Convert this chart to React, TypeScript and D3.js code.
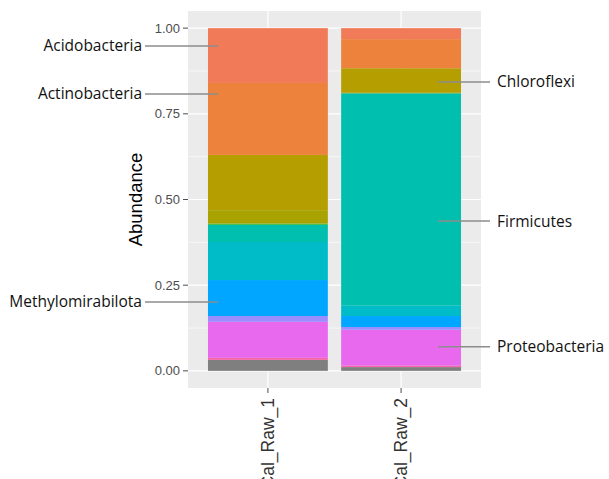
import React from "react";
import * as d3 from "d3";

// samples on the x axis
const samples = ["Cal_Raw_1", "Cal_Raw_2"];

// taxa, stacked from the bottom up
const taxa = [
  "Other",
  "Verrucomicrobiota",
  "Proteobacteria",
  "Myxococcota",
  "Methylomirabilota",
  "Gemmatimonadota",
  "Firmicutes",
  "Entotheonellaeota",
  "Desulfobacterota",
  "Chloroflexi",
  "Actinobacteria",
  "Acidobacteria",
];

const taxaColors = [
  "#7f7f7f",
  "#f966a8",
  "#e868ee",
  "#9b8cff",
  "#00a6ff",
  "#00bcc9",
  "#00bfaf",
  "#3db83a",
  "#a8a300",
  "#b49e00",
  "#ec823c",
  "#f17b59",
];

// relative abundance per taxon, same order as taxa
const raw1 = [0.032, 0.006, 0.105, 0.017, 0.105, 0.111, 0.05, 0.004, 0.039, 0.161, 0.21, 0.16];
const raw2 = [0.011, 0.004, 0.105, 0.008, 0.032, 0.03, 0.62, 0.0, 0.003, 0.07, 0.085, 0.032];

const yTicks = [0, 0.25, 0.5, 0.75, 1];
const yMinor = [0.125, 0.375, 0.625, 0.875];

// labelled taxa: which sample, at what abundance height, which side
const labelNames = ["Acidobacteria", "Actinobacteria", "Methylomirabilota", "Chloroflexi", "Firmicutes", "Proteobacteria"];
const labelSample = ["Cal_Raw_1", "Cal_Raw_1", "Cal_Raw_1", "Cal_Raw_2", "Cal_Raw_2", "Cal_Raw_2"];
const labelValue = [0.948, 0.808, 0.201, 0.843, 0.437, 0.07];

export default function App() {
  const width = 609;
  const height = 479;
  const panel = { left: 188, right: 481, top: 11, bottom: 388 };

  const x = d3
    .scaleBand<string>()
    .domain(samples)
    .range([panel.left, panel.right])
    .paddingInner(0.1)
    .paddingOuter(0.15);

  const y = d3.scaleLinear().domain([-0.05, 1.05]).range([panel.bottom, panel.top]);

  const rows = samples.map((s, i) => {
    const vals = i === 0 ? raw1 : raw2;
    const row: any = { sample: s };
    taxa.forEach((t, j) => (row[t] = vals[j]));
    return row;
  });

  const series = d3.stack<any>().keys(taxa)(rows);
  const color = d3.scaleOrdinal<string, string>().domain(taxa).range(taxaColors);

  const axisFont = "'Liberation Sans', Arial, sans-serif";
  const labelFont = "'Open Sans', sans-serif";

  return (
    <svg width={width} height={height} style={{ position: "absolute", left: 0, top: 0, background: "#fff" }}>
      <rect
        x={panel.left}
        y={panel.top}
        width={panel.right - panel.left}
        height={panel.bottom - panel.top}
        fill="#ebebeb"
      />
      {yMinor.map((t) => (
        <line key={"m" + t} x1={panel.left} x2={panel.right} y1={y(t)} y2={y(t)} stroke="#fff" strokeWidth={0.6} />
      ))}
      {yTicks.map((t) => (
        <line key={"g" + t} x1={panel.left} x2={panel.right} y1={y(t)} y2={y(t)} stroke="#fff" strokeWidth={1.2} />
      ))}
      {samples.map((s) => (
        <line
          key={"v" + s}
          x1={x(s)! + x.bandwidth() / 2}
          x2={x(s)! + x.bandwidth() / 2}
          y1={panel.top}
          y2={panel.bottom}
          stroke="#fff"
          strokeWidth={1.2}
        />
      ))}

      {series.map((ser) => (
        <g key={ser.key} fill={color(ser.key)}>
          {ser.map((d, i) => (
            <rect
              key={i}
              x={x(d.data.sample)}
              width={x.bandwidth()}
              y={y(d[1])}
              height={Math.max(0, y(d[0]) - y(d[1]))}
            />
          ))}
        </g>
      ))}

      {/* y axis */}
      {yTicks.map((t) => (
        <g key={"yt" + t}>
          <line x1={panel.left - 5} x2={panel.left} y1={y(t)} y2={y(t)} stroke="#4d4d4d" strokeWidth={1} />
          <text
            x={panel.left - 8}
            y={y(t)}
            dy="0.35em"
            textAnchor="end"
            fontFamily={axisFont}
            fontSize={13}
            fill="#4d4d4d"
          >
            {d3.format(".2f")(t)}
          </text>
        </g>
      ))}
      <text
        transform={`translate(142,${(panel.top + panel.bottom) / 2}) rotate(-90)`}
        textAnchor="middle"
        fontFamily={axisFont}
        fontSize={18.5}
        fill="#000"
      >
        Abundance
      </text>

      {/* x axis */}
      {samples.map((s) => {
        const cx = x(s)! + x.bandwidth() / 2;
        return (
          <g key={"xt" + s}>
            <line x1={cx} x2={cx} y1={panel.bottom} y2={panel.bottom + 5} stroke="#4d4d4d" strokeWidth={1} />
            <text
              transform={`translate(${cx},${panel.bottom + 10}) rotate(-90)`}
              dy="0.35em"
              textAnchor="end"
              fontFamily={axisFont}
              fontSize={17.5}
              fill="#333"
            >
              {s}
            </text>
          </g>
        );
      })}

      {/* taxon labels */}
      {labelNames.map((name, i) => {
        const s = labelSample[i];
        const ly = y(labelValue[i]);
        const left = samples.indexOf(s) === 0;
        const x0 = x(s)!;
        const x1 = x0 + x.bandwidth();
        const lineA = left ? 145 : x1 - 23;
        const lineB = left ? x0 + 10 : 490;
        return (
          <g key={name}>
            <line x1={lineA} x2={lineB} y1={ly} y2={ly} stroke="#8c8c8c" strokeWidth={1.5} />
            <text
              x={left ? 142 : 497}
              y={ly}
              dy="0.35em"
              textAnchor={left ? "end" : "start"}
              fontFamily={labelFont}
              fontSize={15.5}
              fill="#111"
            >
              {name}
            </text>
          </g>
        );
      })}
    </svg>
  );
}
